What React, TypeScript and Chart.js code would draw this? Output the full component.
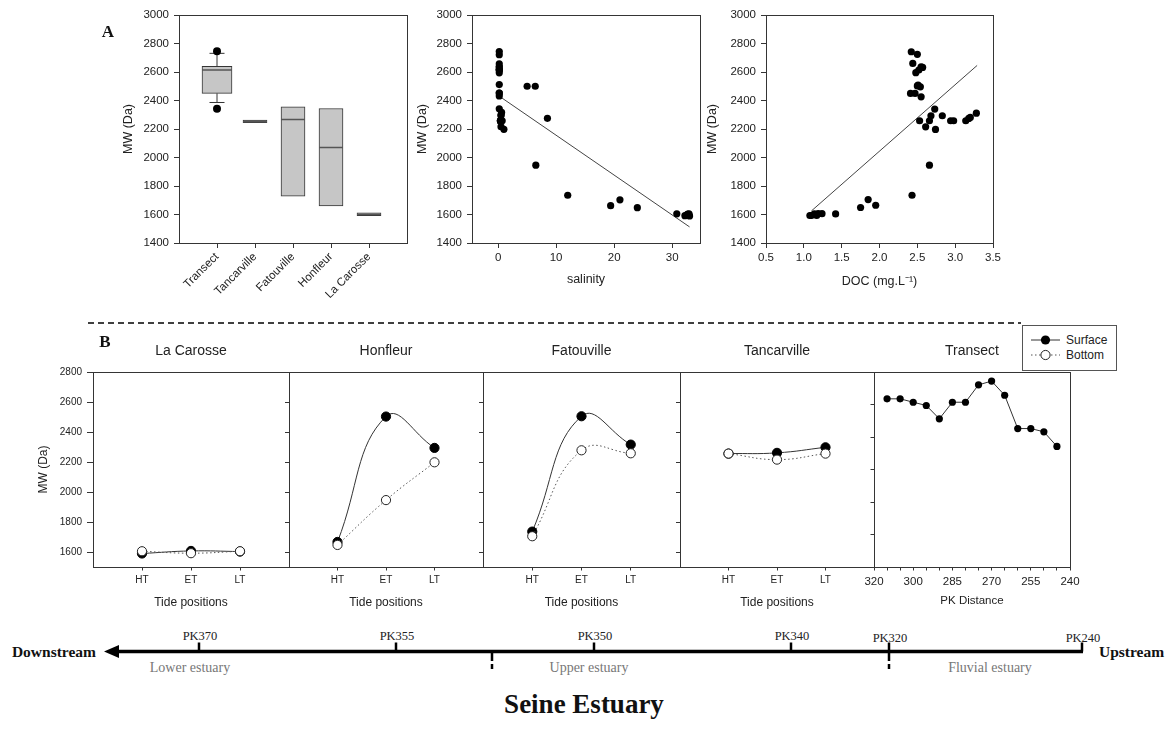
import React, { useEffect, useRef } from 'react';
import { Chart, registerables } from 'chart.js';

Chart.register(...registerables);

const SANS = "'Liberation Sans', Arial, Helvetica, sans-serif";
const SERIF = "'Liberation Serif', 'Times New Roman', 'DejaVu Serif', serif";
Chart.defaults.font.family = SANS;
Chart.defaults.color = '#222';

// ===================== DATA =====================
// Panel A - box plot of MW per site
const boxCategories = ['Transect', 'Tancarville', 'Fatouville', 'Honfleur', 'La Carosse'];
const boxQ1 = [2450, 2244, 1728, 1660, 1592];
const boxQ3 = [2640, 2262, 2356, 2344, 1611];
const boxMedian = [2614, 2252, 2267, 2070, 1600];
const transectWhiskers = [2386, 2731];
const transectOutliers = [2745, 2342];

// Panel A - MW vs salinity
const salinityX = [0.2, 0.2, 0.2, 0.2, 0.2, 0.2, 0.2, 0.2, 0.2, 0.2, 0.2, 0.2, 0.2, 0.2,
  0.4, 0.4, 0.5, 0.4, 0.5, 0.4, 0.6, 0.7, 0.5, 1.0,
  5.0, 6.4, 8.5, 6.5, 12.0, 19.4, 21.0, 24.0, 30.8, 32.2, 32.6, 32.9, 33.0, 32.7];
const salinityMW = [2744, 2721, 2657, 2635, 2635, 2615, 2615, 2614, 2594, 2512, 2452, 2452, 2432, 2342,
  2256, 2261, 2298, 2256, 2216, 2256, 2316, 2258, 2294, 2198,
  2500, 2500, 2275, 1946, 1735, 1662, 1703, 1648, 1605, 1592, 1600, 1605, 1590, 1603];
const salinityFitX = [0.5, 33.0];
const salinityFitMW = [2422, 1513];
const salinityTicks = [0, 10, 20, 30];

// Panel A - MW vs DOC
const docX = [2.42, 2.50, 2.44, 2.55, 2.52, 2.48, 2.57, 2.51, 2.54, 2.41, 2.47, 2.55, 2.73,
  2.83, 2.68, 2.66, 2.53, 2.61, 2.74, 2.94, 2.98, 3.14, 3.18, 3.20, 3.28, 2.66, 2.43,
  1.85, 1.75, 1.95, 1.42, 1.10, 1.14, 1.19, 1.24, 1.08, 1.17, 2.50];
const docMW = [2742, 2724, 2660, 2637, 2614, 2595, 2632, 2508, 2496, 2450, 2450, 2426, 2340,
  2293, 2293, 2258, 2258, 2215, 2197, 2258, 2258, 2258, 2274, 2281, 2311, 1946, 1735,
  1705, 1649, 1665, 1604, 1593, 1604, 1606, 1606, 1593, 1593, 2502];
const docFitX = [1.1, 3.29];
const docFitMW = [1625, 2646];

// Panel B - tide positions
const tidePositions = ['HT', 'ET', 'LT'];
const seriesNames = ['Surface', 'Bottom'];
const stationTitles = ['La Carosse', 'Honfleur', 'Fatouville', 'Tancarville', 'Transect'];
const laCarosseSurface = [1590, 1607, 1603];
const laCarosseBottom = [1605, 1592, 1605];
const honfleurSurface = [1667, 2503, 2294];
const honfleurBottom = [1647, 1946, 2198];
const fatouvilleSurface = [1736, 2505, 2316];
const fatouvilleBottom = [1705, 2278, 2258];
const tancarvilleSurface = [2256, 2261, 2298];
const tancarvilleBottom = [2256, 2216, 2256];

// Panel B - transect along PK distance
const transectPK = ['320', '', '', '300', '', '', '285', '', '', '270', '', '', '255', '', '', '240'];
const transectSurface = [2635, 2635, 2614, 2594, 2512, 2614, 2614, 2721, 2744, 2657, 2452, 2452, 2432, 2342];

// Estuary diagram
const estuaryMarks = ['PK370', 'PK355', 'PK350', 'PK340', 'PK320', 'PK240'];
const estuaryZones = ['Lower estuary', 'Upper estuary', 'Fluvial estuary'];

// ===================== LAYOUT =====================
type Rect = { x: number; y: number; w: number; h: number };
type Plot = { l: number; t: number; r: number; b: number };

const boxRect: Rect = { x: 95, y: 0, w: 320, h: 310 };
const boxPlot: Plot = { l: 179, t: 15, r: 407, b: 243 };
const salRect: Rect = { x: 410, y: 0, w: 300, h: 300 };
const salPlot: Plot = { l: 472, t: 15, r: 700, b: 243 };
const docRect: Rect = { x: 700, y: 0, w: 305, h: 300 };
const docPlot: Plot = { l: 766, t: 15, r: 993, b: 243 };

const BT = 372, BB = 567;
const lcRect: Rect = { x: 30, y: 355, w: 270, h: 265 };
const lcPlot: Plot = { l: 93, t: BT, r: 289, b: BB };
const hoRect: Rect = { x: 279, y: 355, w: 214, h: 265 };
const hoPlot: Plot = { l: 289, t: BT, r: 483, b: BB };
const faRect: Rect = { x: 473, y: 355, w: 217, h: 265 };
const faPlot: Plot = { l: 483, t: BT, r: 680, b: BB };
const taRect: Rect = { x: 670, y: 355, w: 214, h: 265 };
const taPlot: Plot = { l: 680, t: BT, r: 874, b: BB };
const trRect: Rect = { x: 858, y: 355, w: 227, h: 265 };
const trPlot: Plot = { l: 874, t: BT, r: 1070, b: BB };

const titleCentersX = [191, 386, 581.5, 777, 972];

const markX = [199, 396, 594, 791, 889, 1082];
const markLabelY = [636, 636, 636, 636, 638, 638];
const zoneX = [190, 589, 990];
const boundaryX = [492, 889];

const AX = '#353535';
const TXT = '#222';
const BOX_FILL = '#c6c6c6';

// ===================== HELPERS =====================
const framePlugin = {
  id: 'frame',
  beforeDatasetsDraw(chart: any) {
    const { ctx, chartArea } = chart;
    const l = Math.round(chartArea.left - 0.5) + 0.5;
    const t = Math.round(chartArea.top - 0.5) + 0.5;
    const r = Math.round(chartArea.right - 0.5) + 0.5;
    const b = Math.round(chartArea.bottom - 0.5) + 0.5;
    ctx.save();
    ctx.strokeStyle = AX;
    ctx.lineWidth = 1;
    ctx.strokeRect(l, t, r - l, b - t);
    ctx.restore();
  },
};

function common(rect: Rect, plot: Plot) {
  return {
    responsive: false,
    animation: false,
    events: [],
    layout: {
      autoPadding: false,
      padding: { left: 0, top: plot.t - rect.y, right: rect.x + rect.w - plot.r, bottom: 0 },
    },
    plugins: { legend: { display: false }, tooltip: { enabled: false }, title: { display: false } },
  };
}

function yAxis(rect: Rect, plot: Plot, o: any) {
  return {
    type: 'linear',
    position: 'left',
    min: o.min,
    max: o.max,
    afterFit: (s: any) => { s.width = plot.l - rect.x; },
    afterBuildTicks: (s: any) => { s.ticks = s.ticks.filter((t: any) => t.value % 200 === 0); },
    border: { display: false },
    grid: { display: true, drawOnChartArea: false, drawTicks: true, tickLength: o.tickLength, color: AX, lineWidth: 1 },
    ticks: {
      display: o.labels,
      stepSize: 200,
      padding: o.pad ?? 5,
      color: TXT,
      font: { size: o.fontSize ?? 11 },
      callback: (v: any) => String(v),
    },
    title: o.title
      ? { display: true, text: o.title, color: TXT, font: { size: o.titleSize ?? 12 }, padding: { top: o.titlePad, bottom: 0 } }
      : { display: false },
  };
}

function ChartCanvas({ rect, build }: { rect: Rect; build: () => any }) {
  const ref = useRef<HTMLCanvasElement | null>(null);
  useEffect(() => {
    if (!ref.current) return;
    const chart = new Chart(ref.current, build());
    return () => chart.destroy();
  }, []);
  return (
    <canvas
      ref={ref}
      width={rect.w}
      height={rect.h}
      style={{ position: 'absolute', left: rect.x, top: rect.y, width: rect.w, height: rect.h }}
    />
  );
}

// ===================== CHART BUILDERS =====================
const boxLabels = ['', ...boxCategories, ''];
const padArr = (a: any[]) => [null, ...a, null];

function buildBox() {
  const rect = boxRect, plot = boxPlot;
  const t = boxCategories[0];
  const transectBox = padArr(boxCategories.map((_, i) => (i === 0 ? [boxQ1[i], boxQ3[i]] : null)));
  const otherBoxes = padArr(boxCategories.map((_, i) => (i === 0 ? null : [boxQ1[i], boxQ3[i]])));
  return {
    type: 'bar',
    data: {
      labels: boxLabels,
      datasets: [
        {
          type: 'line', showLine: false, clip: false,
          data: transectOutliers.map((y) => ({ x: t, y })),
          pointRadius: 4, pointBackgroundColor: '#000', pointBorderColor: '#000', pointBorderWidth: 0,
        },
        {
          type: 'line', showLine: false,
          data: padArr(boxMedian),
          pointStyle: 'line', pointRadius: (c: any) => (c.dataIndex === 1 ? 15 : 12),
          pointBorderColor: '#555', pointBorderWidth: 1.6,
        },
        {
          type: 'line', showLine: false,
          data: transectWhiskers.map((y) => ({ x: t, y })),
          pointStyle: 'line', pointRadius: 7.5, pointBorderColor: AX, pointBorderWidth: 1,
        },
        {
          type: 'line', data: [{ x: t, y: boxQ3[0] }, { x: t, y: transectWhiskers[1] }],
          borderColor: AX, borderWidth: 1, pointRadius: 0,
        },
        {
          type: 'line', data: [{ x: t, y: transectWhiskers[0] }, { x: t, y: boxQ1[0] }],
          borderColor: AX, borderWidth: 1, pointRadius: 0,
        },
        {
          type: 'bar', data: transectBox, barThickness: 30, grouped: false,
          backgroundColor: BOX_FILL, borderColor: AX, borderWidth: 1, borderSkipped: false,
        },
        {
          type: 'bar', data: otherBoxes, barThickness: 24, grouped: false,
          backgroundColor: BOX_FILL, borderColor: AX, borderWidth: 1, borderSkipped: false,
        },
      ],
    },
    options: {
      ...common(rect, plot),
      scales: {
        x: {
          type: 'category',
          offset: false,
          afterBuildTicks: (s: any) => { s.ticks = s.ticks.filter((tk: any) => boxLabels[tk.value] !== ''); },
          afterFit: (s: any) => { s.height = rect.y + rect.h - plot.b; },
          border: { display: false },
          grid: { display: true, offset: false, drawOnChartArea: false, drawTicks: true, tickLength: 5, color: AX },
          ticks: { autoSkip: false, minRotation: 45, maxRotation: 45, padding: 2, color: TXT, font: { size: 11.5 } },
        },
        y: yAxis(rect, plot, { min: 1400, max: 3000, tickLength: 5, labels: true, fontSize: 11.5, title: 'MW (Da)', titleSize: 12.5, titlePad: 26.5 }),
      },
    },
    plugins: [framePlugin],
  };
}

function buildScatter(rect: Rect, plot: Plot, xs: number[], ys: number[], fx: number[], fy: number[], xScale: any, yTitlePad: number) {
  return {
    type: 'scatter',
    data: {
      datasets: [
        {
          data: xs.map((x, i) => ({ x, y: ys[i] })),
          pointRadius: 3.6, pointBackgroundColor: '#000', pointBorderColor: '#000', pointBorderWidth: 0, clip: false,
        },
        {
          data: fx.map((x, i) => ({ x, y: fy[i] })),
          showLine: true, borderColor: '#444', borderWidth: 1, pointRadius: 0,
        },
      ],
    },
    options: {
      ...common(rect, plot),
      scales: {
        x: {
          type: 'linear',
          afterFit: (s: any) => { s.height = rect.y + rect.h - plot.b; },
          border: { display: false },
          grid: { display: true, drawOnChartArea: false, drawTicks: true, tickLength: 5, color: AX },
          ...xScale,
        },
        y: yAxis(rect, plot, { min: 1400, max: 3000, tickLength: 5, labels: true, fontSize: 11.5, title: 'MW (Da)', titleSize: 12.5, titlePad: yTitlePad }),
      },
    },
    plugins: [framePlugin],
  };
}

function buildSalinity() {
  return buildScatter(salRect, salPlot, salinityX, salinityMW, salinityFitX, salinityFitMW, {
    min: -4.5,
    max: 34.8,
    afterBuildTicks: (s: any) => { s.ticks = salinityTicks.map((v) => ({ value: v })); },
    ticks: { padding: 3, color: TXT, font: { size: 11.5 }, callback: (v: any) => String(v) },
    title: { display: true, text: 'salinity', color: TXT, font: { size: 12.5 }, padding: { top: 0, bottom: 12.5 } },
  }, 5.5);
}

function buildDoc() {
  return buildScatter(docRect, docPlot, docX, docMW, docFitX, docFitMW, {
    min: 0.5,
    max: 3.5,
    ticks: { stepSize: 0.5, padding: 3, color: TXT, font: { size: 11.5 }, callback: (v: any) => Number(v).toFixed(1) },
    title: { display: true, text: 'DOC (mg.L\u207B\u00B9)', color: TXT, font: { size: 12.5 }, padding: { top: 0, bottom: 10.5 } },
  }, 5.5);
}

function buildTide(rect: Rect, plot: Plot, surface: number[], bottom: number[], first: boolean) {
  const labels = ['', ...tidePositions, ''];
  return {
    type: 'line',
    data: {
      labels,
      datasets: [
        {
          label: seriesNames[1], data: padArr(bottom), borderColor: '#555', borderWidth: 1, borderDash: [1.5, 2.5],
          pointRadius: 4.6, pointBackgroundColor: '#fff', pointBorderColor: '#222', pointBorderWidth: 1,
          tension: 0.45, spanGaps: true, clip: false,
        },
        {
          label: seriesNames[0], data: padArr(surface), borderColor: '#333', borderWidth: 1,
          pointRadius: 4.6, pointBackgroundColor: '#000', pointBorderColor: '#000', pointBorderWidth: 1,
          tension: 0.45, spanGaps: true, clip: false,
        },
      ],
    },
    options: {
      ...common(rect, plot),
      scales: {
        x: {
          type: 'category',
          offset: false,
          afterBuildTicks: (s: any) => { s.ticks = s.ticks.filter((tk: any) => labels[tk.value] !== ''); },
          afterFit: (s: any) => { s.height = rect.y + rect.h - plot.b; },
          border: { display: false },
          grid: { display: true, offset: false, drawOnChartArea: false, drawTicks: true, tickLength: 3.5, color: AX },
          ticks: { autoSkip: false, maxRotation: 0, padding: 3.5, color: TXT, font: { size: 10 } },
          title: { display: true, text: 'Tide positions', color: TXT, font: { size: 12 }, padding: { top: 0, bottom: 9.8 } },
        },
        y: yAxis(rect, plot, first
          ? { min: 1500, max: 2800, tickLength: 6, labels: true, fontSize: 10, title: 'MW (Da)', titleSize: 12, titlePad: 6.8 }
          : { min: 1500, max: 2800, tickLength: 4, labels: false }),
      },
    },
    plugins: [framePlugin],
  };
}

function buildTransect() {
  const rect = trRect, plot = trPlot;
  return {
    type: 'line',
    data: {
      labels: transectPK,
      datasets: [
        {
          label: seriesNames[0], data: padArr(transectSurface), borderColor: '#333', borderWidth: 1,
          pointRadius: 3.6, pointBackgroundColor: '#000', pointBorderColor: '#000', pointBorderWidth: 0,
          tension: 0, spanGaps: true, clip: false,
        },
      ],
    },
    options: {
      ...common(rect, plot),
      scales: {
        x: {
          type: 'category',
          offset: false,
          afterFit: (s: any) => { s.height = rect.y + rect.h - plot.b; },
          border: { display: false },
          grid: { display: true, offset: false, drawOnChartArea: false, drawTicks: true, tickLength: 3.5, color: AX },
          ticks: { autoSkip: false, maxRotation: 0, padding: 4, color: TXT, font: { size: 11.5 } },
          title: { display: true, text: 'PK Distance', color: TXT, font: { size: 11.5 }, padding: { top: 0, bottom: 12 } },
        },
        y: yAxis(rect, plot, { min: 1600, max: 2800, tickLength: 3.5, labels: false }),
      },
    },
    plugins: [framePlugin],
  };
}

// ===================== HTML PIECES =====================
function Txt({ x, y, children, style }: any) {
  return (
    <div
      style={{
        position: 'absolute', left: x, top: y, transform: 'translate(-50%, -50%)',
        whiteSpace: 'nowrap', lineHeight: 1, color: TXT, ...style,
      }}
    >
      {children}
    </div>
  );
}

function Legend() {
  return (
    <div
      style={{
        position: 'absolute', left: 1022, top: 325, width: 95, height: 46, boxSizing: 'border-box',
        border: '1px solid #555', background: '#fff', zIndex: 5,
      }}
    >
      <svg width={93} height={44} style={{ position: 'absolute', left: 0, top: 0 }}>
        <line x1={8} y1={14} x2={37} y2={14} stroke="#333" strokeWidth={1} />
        <circle cx={22.5} cy={14} r={4.6} fill="#000" />
        <text x={43} y={14} dominantBaseline="central" fontFamily={SANS} fontSize={12} fill={TXT}>{seriesNames[0]}</text>
        <line x1={8} y1={29} x2={37} y2={29} stroke="#555" strokeWidth={1} strokeDasharray="1.5 2.5" />
        <circle cx={22.5} cy={29} r={4.6} fill="#fff" stroke="#222" strokeWidth={1} />
        <text x={43} y={29} dominantBaseline="central" fontFamily={SANS} fontSize={12} fill={TXT}>{seriesNames[1]}</text>
      </svg>
    </div>
  );
}

function Decor() {
  const lineY = 651.5;
  return (
    <svg width={1168} height={737} style={{ position: 'absolute', left: 0, top: 0 }}>
      <line x1={88} y1={323} x2={1021} y2={323} stroke="#000" strokeWidth={1.3} strokeDasharray="6 4" />
      {/* estuary axis */}
      <line x1={112} y1={lineY} x2={1083} y2={lineY} stroke="#000" strokeWidth={3.5} />
      <polygon points={`104,${lineY} 119,${lineY - 6.5} 119,${lineY + 6.5}`} fill="#000" />
      {markX.map((x, i) => (
        <g key={i}>
          <line x1={x} y1={642.5} x2={x} y2={lineY} stroke="#000" strokeWidth={2.5} />
          <text x={x + 1} y={markLabelY[i]} textAnchor="middle" dominantBaseline="central" fontFamily={SERIF} fontSize={12.5} fill="#222">
            {estuaryMarks[i]}
          </text>
        </g>
      ))}
      {boundaryX.map((x, i) => (
        <line key={i} x1={x} y1={653} x2={x} y2={669} stroke="#000" strokeWidth={2.5} strokeDasharray="8 3" />
      ))}
      {estuaryZones.map((z, i) => (
        <text key={i} x={zoneX[i]} y={667} textAnchor="middle" dominantBaseline="central" fontFamily={SERIF} fontSize={14} fill="#777">
          {z}
        </text>
      ))}
      <text x={96} y={lineY} textAnchor="end" dominantBaseline="central" fontFamily={SERIF} fontWeight="bold" fontSize={15.5} fill="#111">
        Downstream
      </text>
      <text x={1099} y={lineY} textAnchor="start" dominantBaseline="central" fontFamily={SERIF} fontWeight="bold" fontSize={15.5} fill="#111">
        Upstream
      </text>
      <text x={584} y={704} textAnchor="middle" dominantBaseline="central" fontFamily={SERIF} fontWeight="bold" fontSize={27} fill="#111">
        Seine Estuary
      </text>
    </svg>
  );
}

export default function App() {
  return (
    <div
      style={{
        position: 'absolute', left: 0, top: 0, width: 1168, height: 737, background: '#fff',
        overflow: 'hidden', fontFamily: SANS,
      }}
    >
      <Decor />
      <ChartCanvas rect={boxRect} build={buildBox} />
      <ChartCanvas rect={salRect} build={buildSalinity} />
      <ChartCanvas rect={docRect} build={buildDoc} />
      <ChartCanvas rect={lcRect} build={() => buildTide(lcRect, lcPlot, laCarosseSurface, laCarosseBottom, true)} />
      <ChartCanvas rect={hoRect} build={() => buildTide(hoRect, hoPlot, honfleurSurface, honfleurBottom, false)} />
      <ChartCanvas rect={faRect} build={() => buildTide(faRect, faPlot, fatouvilleSurface, fatouvilleBottom, false)} />
      <ChartCanvas rect={taRect} build={() => buildTide(taRect, taPlot, tancarvilleSurface, tancarvilleBottom, false)} />
      <ChartCanvas rect={trRect} build={buildTransect} />
      <Txt x={108} y={31} style={{ fontFamily: SERIF, fontWeight: 'bold', fontSize: 17, color: '#111' }}>A</Txt>
      <Txt x={105} y={341} style={{ fontFamily: SERIF, fontWeight: 'bold', fontSize: 17, color: '#111' }}>B</Txt>
      {stationTitles.map((s, i) => (
        <Txt key={s} x={titleCentersX[i]} y={350} style={{ fontSize: 14 }}>{s}</Txt>
      ))}
      <Legend />
    </div>
  );
}
